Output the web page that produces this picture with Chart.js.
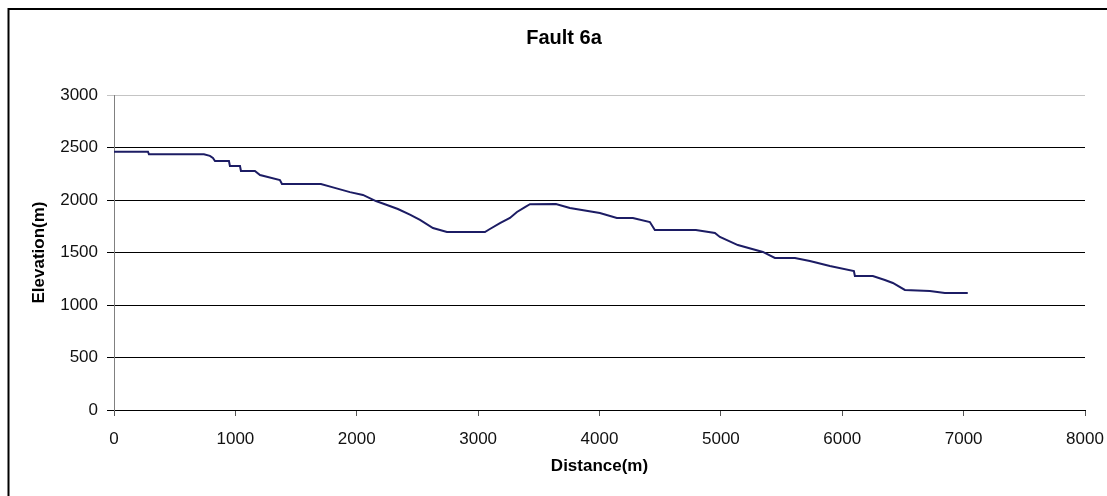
<!DOCTYPE html>
<html>
<head>
<meta charset="utf-8">
<script src="https://cdn.jsdelivr.net/npm/chart.js@4"></script>
<style>
  html, body { margin: 0; padding: 0; background: #fff; }
  #wrap { position: relative; width: 1107px; height: 496px; }
</style>
</head>
<body>
<div id="wrap"><canvas id="chart" width="1107" height="496"></canvas></div>
<script>
// -----------------------------
// DATA
// -----------------------------
const distance = [0, 280, 288, 741, 790, 815, 832, 947, 955, 1038, 1046, 1161,
  1203, 1367, 1384, 1705, 1804, 1944, 2051, 2158, 2232, 2339, 2438, 2521, 2628,
  2743, 3056, 3097, 3180, 3262, 3320, 3386, 3427, 3641, 3756, 4003, 4143, 4275,
  4415, 4456, 4794, 4951, 4992, 5140, 5346, 5445, 5610, 5733, 5898, 6096, 6104,
  6252, 6351, 6417, 6516, 6722, 6845, 7034];
const elevation = [2460, 2460, 2435, 2435, 2420, 2400, 2371, 2371, 2324, 2324, 2276, 2276,
  2238, 2190, 2152, 2152, 2120, 2075, 2048, 1990, 1960, 1914, 1860, 1810, 1733,
  1695, 1695, 1724, 1780, 1829, 1886, 1933, 1960, 1962, 1924, 1876, 1829, 1829,
  1790, 1714, 1714, 1686, 1648, 1571, 1505, 1448, 1448, 1419, 1371, 1324, 1276,
  1276, 1238, 1210, 1143, 1133, 1114, 1114];

const xTicks = [0, 1000, 2000, 3000, 4000, 5000, 6000, 7000, 8000];
const yTicks = [0, 500, 1000, 1500, 2000, 2500, 3000];

const chartTitle = "Fault 6a";
const xTitle = "Distance(m)";
const yTitle = "Elevation(m)";

const FONT = "'Liberation Sans', Arial, sans-serif";

// frame + title drawn on the canvas
const framePlugin = {
  id: "frame",
  afterDraw(chart) {
    const ctx = chart.ctx;
    ctx.save();
    ctx.strokeStyle = "#000";
    ctx.lineWidth = 2;
    ctx.beginPath();
    ctx.moveTo(8.5, 496);
    ctx.lineTo(8.5, 9);
    ctx.lineTo(1107, 9);
    ctx.stroke();
    ctx.fillStyle = "#000";
    ctx.font = "bold 20px " + FONT;
    ctx.textAlign = "center";
    ctx.textBaseline = "middle";
    ctx.fillText(chartTitle, 564, 38);
    ctx.restore();
  }
};

const points = distance.map((d, i) => ({ x: d, y: elevation[i] }));

new Chart(document.getElementById("chart"), {
  type: "scatter",
  data: {
    datasets: [{
      data: points,
      showLine: true,
      borderColor: "#1c1c64",
      backgroundColor: "#1c1c64",
      borderWidth: 2,
      pointRadius: 0
    }]
  },
  options: {
    responsive: false,
    animation: false,
    layout: { autoPadding: false, padding: { left: 0, right: 22, top: 95, bottom: 0 } },
    plugins: { legend: { display: false }, tooltip: { enabled: false } },
    scales: {
      x: {
        type: "linear",
        min: 0, max: 8000,
        afterBuildTicks: s => { s.ticks = xTicks.map(v => ({ value: v })); },
        afterFit: s => { s.height = 86; s.paddingLeft = 0; s.paddingRight = 0; },
        grid: { drawOnChartArea: false, tickLength: 6, color: "#555" },
        border: { color: "#000", width: 1 },
        ticks: { color: "#111", font: { size: 17, family: FONT }, padding: 13, maxRotation: 0,
          callback: v => String(v) },
        title: { display: true, text: xTitle, color: "#000",
          font: { size: 17, weight: "bold", family: FONT }, padding: { top: 0, bottom: 19 } }
      },
      y: {
        min: 0, max: 3000,
        afterBuildTicks: s => { s.ticks = yTicks.map(v => ({ value: v })); },
        afterFit: s => { s.width = 114; },
        grid: {
          tickLength: 7,
          color: c => (c.tick && c.tick.value === 3000 ? "#c4c4c4" : "#000")
        },
        border: { color: "#808080", width: 1 },
        ticks: { color: "#111", font: { size: 17, family: FONT }, padding: 9,
          callback: v => String(v) },
        title: { display: true, text: yTitle, color: "#000",
          font: { size: 17, weight: "bold", family: FONT }, padding: { top: 29, bottom: 0 } }
      }
    }
  },
  plugins: [framePlugin]
});
</script>
</body>
</html>
